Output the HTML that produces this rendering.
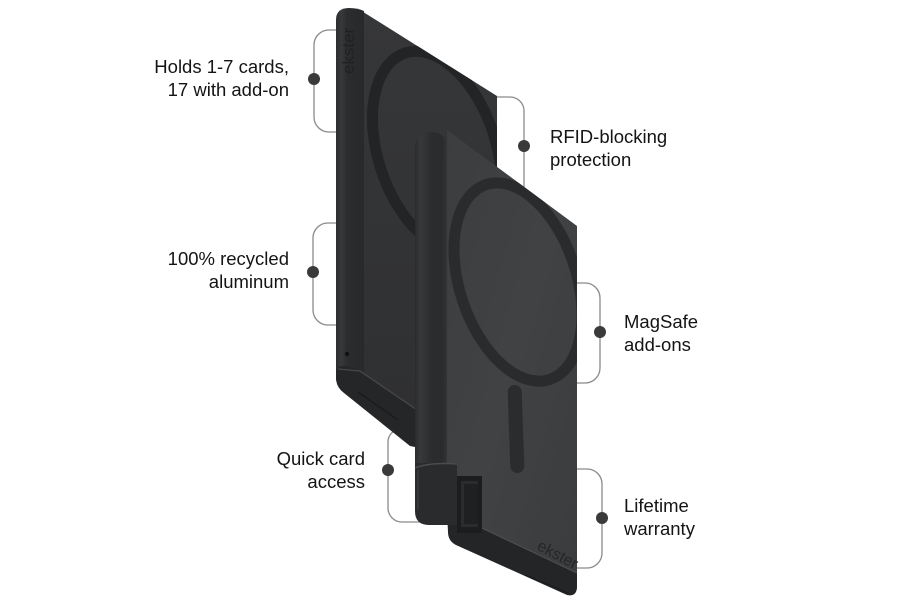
<!DOCTYPE html>
<html>
<head>
<meta charset="utf-8">
<style>
  html,body{margin:0;padding:0;background:#ffffff;}
  svg{display:block;}
  .t{font-family:"Liberation Sans",sans-serif;font-size:18.5px;fill:#141414;}
</style>
</head>
<body>
<svg width="900" height="600" viewBox="0 0 900 600" xmlns="http://www.w3.org/2000/svg">
  <defs>
    <linearGradient id="spineB" x1="0" y1="0" x2="1" y2="0">
      <stop offset="0" stop-color="#2c2d2f"/>
      <stop offset="0.2" stop-color="#38393b"/>
      <stop offset="0.4" stop-color="#2b2c2e"/>
      <stop offset="1" stop-color="#28292b"/>
    </linearGradient>
    <linearGradient id="spineF" x1="0" y1="0" x2="1" y2="0">
      <stop offset="0" stop-color="#2a2b2d"/>
      <stop offset="0.15" stop-color="#38393b"/>
      <stop offset="0.5" stop-color="#2c2d2f"/>
      <stop offset="0.85" stop-color="#2a2b2d"/>
      <stop offset="1" stop-color="#333436"/>
    </linearGradient>
    <linearGradient id="faceB" x1="0" y1="0" x2="0" y2="1">
      <stop offset="0" stop-color="#363739"/>
      <stop offset="1" stop-color="#2f3032"/>
    </linearGradient>
    <linearGradient id="faceF" x1="0" y1="0" x2="1" y2="1">
      <stop offset="0" stop-color="#3c3d3f"/>
      <stop offset="0.5" stop-color="#414244"/>
      <stop offset="1" stop-color="#3b3c3e"/>
    </linearGradient>
    <clipPath id="clipB">
      <path d="M 360 10 L 497 96 L 497 340 L 418 420 L 360 378 Z"/>
    </clipPath>
    <clipPath id="clipF">
      <path d="M 447 130 L 577 226 L 577 574 L 447 512 Z"/>
    </clipPath>
  </defs>

  <!-- Brackets (behind product) -->
  <g fill="none" stroke="#8a8a8a" stroke-width="1.3">
    <path d="M 342 30 H 329 A 15 15 0 0 0 314 45 V 117 A 15 15 0 0 0 329 132 H 342"/>
    <path d="M 342 223 H 328 A 15 15 0 0 0 313 238 V 310 A 15 15 0 0 0 328 325 H 342"/>
    <path d="M 410 429 H 401 A 13 13 0 0 0 388 442 V 508 A 14 14 0 0 0 402 522 H 425"/>
    <path d="M 490 97 H 510 A 14 14 0 0 1 524 111 V 200"/>
    <path d="M 570 283 H 585 A 15 15 0 0 1 600 298 V 368 A 15 15 0 0 1 585 383 H 570"/>
    <path d="M 570 469 H 587 A 15 15 0 0 1 602 484 V 553 A 15 15 0 0 1 587 568 H 570"/>
  </g>
  <g fill="#3a3a3a">
    <circle cx="314" cy="79" r="6"/>
    <circle cx="313" cy="272" r="6"/>
    <circle cx="388" cy="470" r="6"/>
    <circle cx="524" cy="146" r="6"/>
    <circle cx="600" cy="332" r="6"/>
    <circle cx="602" cy="518" r="6"/>
  </g>

  <!-- Back wallet -->
  <path d="M 360 10 L 497 96 L 497 340 L 418 420 L 360 378 Z" fill="url(#faceB)"/>
  <g clip-path="url(#clipB)">
    <ellipse cx="437" cy="151" rx="59" ry="103" transform="rotate(-18 437 151)" fill="none" stroke="#232426" stroke-width="11"/>
  </g>
  <path d="M 336 20 Q 336 8 349 8 Q 358 8 364 11 L 364 380 L 336 380 Z" fill="url(#spineB)"/>
  <text x="354" y="74" transform="rotate(-90 354 74)" font-family="Liberation Sans, sans-serif" font-size="17" fill="#202123">ekster</text>
  <circle cx="347" cy="354" r="2.2" fill="#121212"/>
  <!-- back lip -->
  <path d="M 336 372 Q 337 365 346 366 L 360 371 L 420 412 L 420 448 L 410 446 L 344 393 Q 336 387 336 378 Z" fill="#252628"/>
  <polyline points="338,369 360,371 420,412" fill="none" stroke="#47484a" stroke-width="1.3"/>
  <line x1="358" y1="392" x2="398" y2="420" stroke="#1b1c1e" stroke-width="1.5"/>

  <!-- Front wallet -->
  <path d="M 447 130 L 577 226 L 577 574 L 447 512 Z" fill="url(#faceF)"/>
  <g clip-path="url(#clipF)">
    <ellipse cx="518" cy="282" rx="58.5" ry="102.5" transform="rotate(-18 518 282)" fill="none" stroke="#2a2b2d" stroke-width="11"/>
    <rect x="509" y="385" width="14" height="88" rx="7" transform="rotate(-2 516 429)" fill="#2b2c2e"/>
  </g>
  <!-- front lip -->
  <path d="M 447 512 L 577 573 L 577 588 Q 576 597 567 595 L 456 545 Q 448 541 448 532 Z" fill="#242527"/>
  <line x1="448" y1="512" x2="577" y2="573" stroke="#4d4e50" stroke-width="1.2"/>
  <line x1="525" y1="575" x2="568" y2="593" stroke="#1a1b1d" stroke-width="1.2"/>
  <!-- front spine -->
  <path d="M 415 148 Q 415 133 431 132 Q 447 133 447 146 L 447 466 L 415 466 Z" fill="url(#spineF)"/>
  <!-- knob -->
  <path d="M 415 463 L 457 463 L 457 525 L 429 525 Q 415 525 415 511 Z" fill="#2a2b2d"/>
  <path d="M 415 468 Q 430 462 457 464" fill="none" stroke="#4b4c4e" stroke-width="1.4"/>
  <line x1="418" y1="470" x2="418" y2="510" stroke="#36373a" stroke-width="2"/>
  <!-- slot -->
  <rect x="457" y="476" width="25" height="57" fill="#1c1d1f"/>
  <rect x="461" y="481" width="17" height="46" fill="#2b2c2e"/>
  <rect x="464" y="484" width="14" height="40" fill="#1f2022"/>
  <text x="536" y="549" transform="rotate(28 536 549)" font-family="Liberation Sans, sans-serif" font-size="16" fill="#252628">ekster</text>

  <!-- Labels -->
  <text class="t" x="289" y="73" text-anchor="end">Holds 1-7 cards,</text>
  <text class="t" x="289" y="96" text-anchor="end">17 with add-on</text>
  <text class="t" x="289" y="265" text-anchor="end">100% recycled</text>
  <text class="t" x="289" y="288" text-anchor="end">aluminum</text>
  <text class="t" x="365" y="465" text-anchor="end">Quick card</text>
  <text class="t" x="365" y="488" text-anchor="end">access</text>
  <text class="t" x="550" y="143">RFID-blocking</text>
  <text class="t" x="550" y="166">protection</text>
  <text class="t" x="624" y="328">MagSafe</text>
  <text class="t" x="624" y="351">add-ons</text>
  <text class="t" x="624" y="512">Lifetime</text>
  <text class="t" x="624" y="535">warranty</text>
</svg>
</body>
</html>
